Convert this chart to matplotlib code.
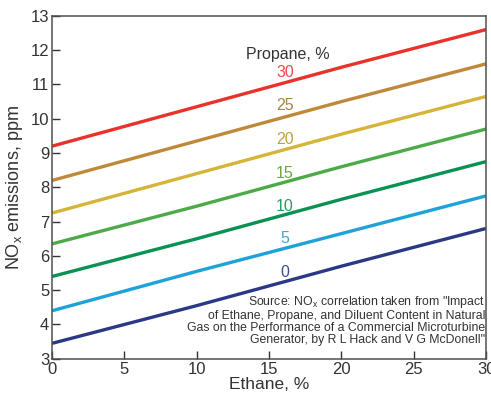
import numpy as np
import matplotlib.pyplot as plt

plt.rcParams['font.family'] = ['Liberation Sans', 'DejaVu Sans']
plt.rcParams['mathtext.fontset'] = 'custom'
plt.rcParams['mathtext.rm'] = 'Liberation Sans'

# ethane %, and NOx (ppm)
ethane = [0, 10, 20, 30]
propane = ['30', '25', '20', '15', '10', '5', '0']
nox = {
    '30': [9.2, 10.35, 11.5, 12.6],
    '25': [8.2, 9.35, 10.5, 11.6],
    '20': [7.25, 8.4, 9.55, 10.65],
    '15': [6.35, 7.45, 8.6, 9.7],
    '10': [5.4, 6.5, 7.65, 8.75],
    '5':  [4.4, 5.55, 6.65, 7.75],
    '0':  [3.45, 4.55, 5.7, 6.8],
}
line_colors = ['#e8322a', '#c0883a', '#d6b438', '#4caa48', '#089254', '#1ea2d8', '#2b3886']
text_colors = ['#f04848', '#a88440', '#c0a040', '#6ea83c', '#22a060', '#3aa8d8', '#3a4a96']
label_y = [11.36, 10.4, 9.4, 8.41, 7.44, 6.51, 5.51]

fig = plt.figure(figsize=(4.91, 3.96), dpi=100)
ax = fig.add_axes([0.106, 0.094, 0.884, 0.866])

for p, lc, tc, ly in zip(propane, line_colors, text_colors, label_y):
    ax.plot(ethane, nox[p], color=lc, lw=2.4, solid_capstyle='butt')
    ax.text(16.1, ly, p, color=tc, fontsize=11.5, ha='center', va='center')

ax.text(16.3, 11.86, 'Propane, %', color='#333333', fontsize=11.5, ha='center', va='center')

src = ('Source: NO$_\\mathregular{x}$ correlation taken from "Impact\n'
       'of Ethane, Propane, and Diluent Content in Natural\n'
       'Gas on the Performance of a Commercial Microturbine\n'
       'Generator, by R L Hack and V G McDonell"')
ax.text(29.95, 4.88, src, fontsize=8.8, ha='right', va='top', color='#333333', linespacing=0.98)

ax.set_xlim(0, 30)
ax.set_ylim(3, 13)
ax.set_xticks([0, 5, 10, 15, 20, 25, 30])
ax.set_yticks(range(3, 14))
ax.tick_params(direction='in', length=6, width=1, labelsize=12, colors='#333333', pad=2)
for s in ax.spines.values():
    s.set_color('#505050')
    s.set_linewidth(1.1)

ax.set_xlabel('Ethane, %', fontsize=12.5, color='#333333', labelpad=0)
ax.set_ylabel('NO$_\\mathregular{x}$ emissions, ppm', fontsize=13, color='#333333', labelpad=4)

fig.savefig('out.png', dpi=100)
